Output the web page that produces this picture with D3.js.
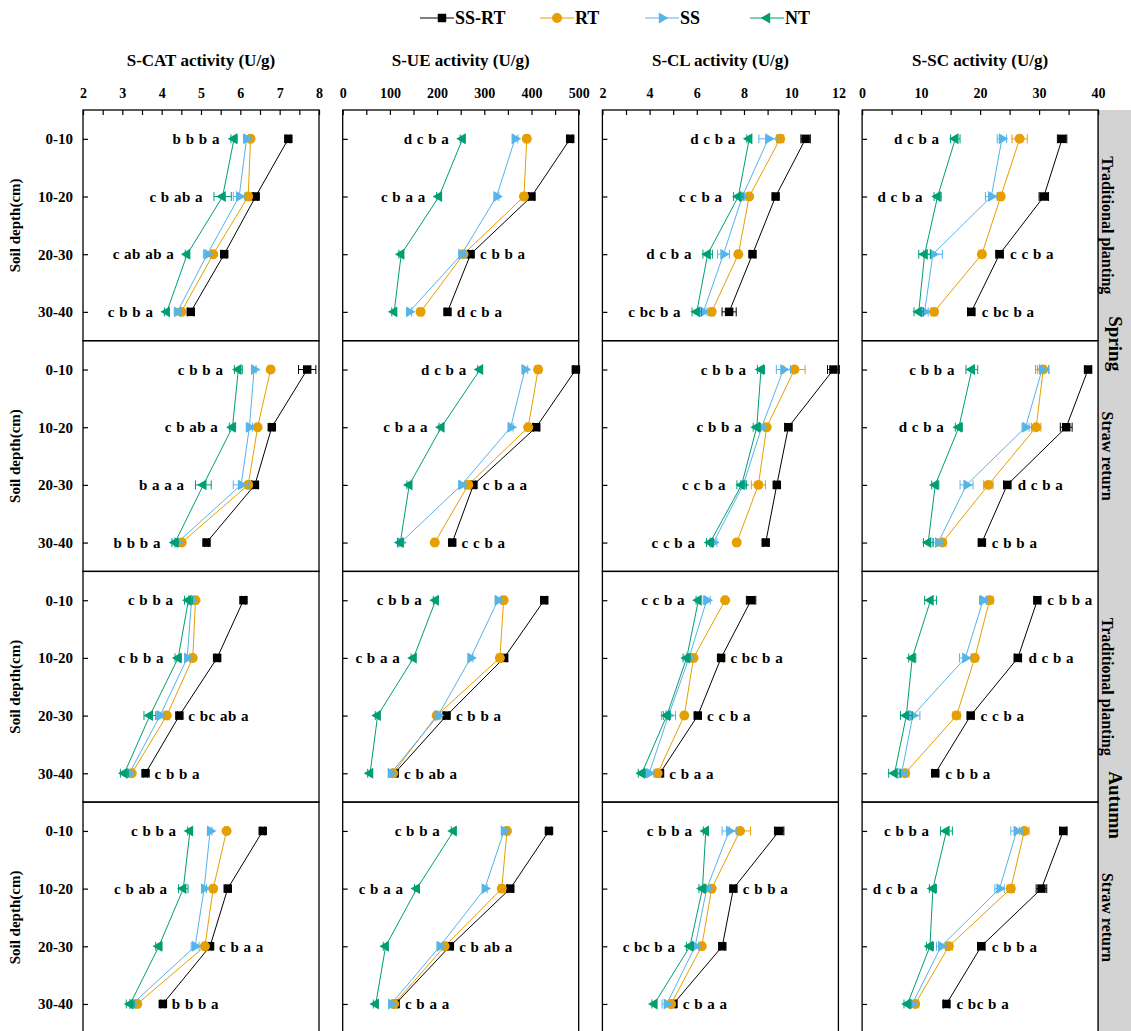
<!DOCTYPE html>
<html>
<head>
<meta charset="utf-8">
<script src="https://cdn.jsdelivr.net/npm/d3@7"></script>
<style>
  body { margin: 0; background: #fff; }
  svg text { font-family: "Liberation Serif", "Times New Roman", serif; font-weight: bold; fill: #000; }
</style>
</head>
<body>
<div id="chart"></div>
<script>
// categories
const depths = ["0-10", "10-20", "20-30", "30-40"];
const treatments = ["SS-RT", "RT", "SS", "NT"];
const colors = ["#000000", "#E69F00", "#56B4E9", "#009E73"];
const enzymeTitles = ["S-CAT activity (U/g)", "S-UE activity (U/g)", "S-CL activity (U/g)", "S-SC activity (U/g)"];
const xDomains = [[2, 8], [0, 500], [2, 12], [0, 40]];
const majorSteps = [1, 100, 2, 10];
const minorSteps = [0.5, 50, 1, 5];
const seasons = ["Spring", "Autumn"];
const practices = ["Traditional planting", "Straw return"];

// values: [row][treatment][depth]; rows = Spring-TP, Spring-SR, Autumn-TP, Autumn-SR
// treatment order: SS-RT, RT, SS, NT
const catValues = [
  [[7.22, 6.39, 5.59, 4.74], [6.26, 6.20, 5.31, 4.50], [6.16, 5.97, 5.16, 4.40], [5.84, 5.55, 4.65, 4.13]],
  [[7.70, 6.80, 6.37, 5.14], [6.77, 6.44, 6.20, 4.51], [6.35, 6.23, 6.02, 4.40], [5.95, 5.80, 5.06, 4.34]],
  [[6.08, 5.41, 4.45, 3.59], [4.86, 4.79, 4.13, 3.24], [4.76, 4.65, 3.96, 3.18], [4.68, 4.42, 3.70, 3.05]],
  [[6.57, 5.68, 5.23, 4.03], [5.65, 5.31, 5.10, 3.38], [5.23, 5.08, 4.85, 3.26], [4.72, 4.55, 3.93, 3.20]]
];
const ueValues = [
  [[482, 400, 271, 222], [390, 384, 256, 165], [365, 326, 252, 141], [254, 204, 124, 109]],
  [[494, 410, 277, 232], [414, 393, 266, 195], [386, 356, 252, 123], [291, 209, 141, 122]],
  [[427, 342, 220, 110], [341, 333, 199, 107], [329, 271, 202, 102], [197, 150, 74, 58]],
  [[437, 355, 227, 112], [348, 337, 216, 109], [342, 301, 206, 103], [235, 157, 91, 70]]
];
const clValues = [
  [[10.61, 9.34, 8.36, 7.37], [9.53, 8.22, 7.76, 6.63], [9.03, 7.93, 7.13, 6.28], [8.22, 7.76, 6.46, 6.00]],
  [[11.79, 9.88, 9.39, 8.92], [10.14, 8.96, 8.61, 7.69], [9.67, 8.75, 7.97, 6.70], [8.72, 8.54, 7.90, 6.56]],
  [[8.30, 7.03, 6.04, 4.44], [7.20, 5.86, 5.47, 4.34], [6.42, 5.67, 4.80, 3.98], [6.07, 5.57, 4.73, 3.67]],
  [[9.49, 7.55, 7.08, 5.01], [7.83, 6.63, 6.21, 4.91], [7.37, 6.42, 5.93, 4.73], [6.38, 6.24, 5.71, 4.20]]
];
const scValues = [
  [[33.9, 30.8, 23.3, 18.5], [26.7, 23.5, 20.3, 12.2], [23.7, 21.9, 12.0, 10.6], [15.8, 12.8, 10.6, 9.6]],
  [[38.3, 34.6, 24.6, 20.3], [30.7, 29.5, 21.4, 13.6], [30.5, 27.7, 17.7, 12.9], [18.6, 16.4, 12.4, 11.2]],
  [[29.7, 26.4, 18.4, 12.4], [21.6, 19.1, 16.0, 7.3], [20.5, 17.5, 8.6, 6.7], [11.6, 8.5, 7.5, 5.5]],
  [[34.1, 30.4, 20.2, 14.3], [27.5, 25.2, 14.7, 9.0], [26.2, 23.3, 13.4, 8.5], [14.3, 12.0, 11.5, 7.7]]
];

// standard errors, same layout
const catErrors = [
  [[0.05, 0.05, 0.05, 0.08], [0.05, 0.05, 0.05, 0.05], [0.08, 0.15, 0.10, 0.08], [0.08, 0.22, 0.05, 0.06]],
  [[0.22, 0.05, 0.08, 0.05], [0.05, 0.05, 0.05, 0.05], [0.05, 0.08, 0.20, 0.05], [0.10, 0.08, 0.20, 0.08]],
  [[0.05, 0.05, 0.05, 0.05], [0.05, 0.05, 0.05, 0.05], [0.06, 0.06, 0.08, 0.06], [0.10, 0.08, 0.15, 0.10]],
  [[0.05, 0.05, 0.05, 0.05], [0.05, 0.05, 0.05, 0.05], [0.05, 0.06, 0.10, 0.06], [0.06, 0.12, 0.08, 0.10]]
];
const ueErrors = [
  [[5, 6, 5, 5], [5, 6, 5, 5], [6, 5, 6, 5], [5, 5, 5, 5]],
  [[5, 6, 5, 5], [6, 5, 5, 5], [6, 5, 6, 6], [5, 5, 5, 6]],
  [[5, 6, 5, 5], [5, 6, 5, 5], [6, 5, 6, 5], [5, 5, 5, 5]],
  [[5, 6, 5, 5], [5, 6, 5, 5], [6, 5, 6, 5], [5, 5, 5, 5]]
];
const clErrors = [
  [[0.20, 0.10, 0.10, 0.30], [0.15, 0.10, 0.10, 0.10], [0.40, 0.10, 0.25, 0.15], [0.10, 0.20, 0.20, 0.20]],
  [[0.25, 0.15, 0.10, 0.10], [0.45, 0.10, 0.30, 0.10], [0.30, 0.10, 0.10, 0.15], [0.15, 0.15, 0.20, 0.15]],
  [[0.20, 0.10, 0.10, 0.10], [0.10, 0.10, 0.10, 0.10], [0.15, 0.10, 0.30, 0.20], [0.10, 0.15, 0.15, 0.15]],
  [[0.20, 0.10, 0.10, 0.10], [0.45, 0.10, 0.10, 0.10], [0.30, 0.15, 0.15, 0.20], [0.10, 0.15, 0.15, 0.10]]
];
const scErrors = [
  [[0.8, 0.8, 0.6, 0.6], [1.3, 0.5, 0.5, 0.5], [0.8, 1.0, 1.6, 0.6], [0.8, 0.6, 1.0, 0.8]],
  [[0.5, 1.0, 0.6, 0.5], [1.0, 0.8, 0.8, 0.6], [1.1, 0.6, 1.1, 0.8], [1.0, 0.6, 0.6, 0.8]],
  [[0.5, 0.6, 0.5, 0.5], [0.6, 0.5, 0.6, 0.6], [0.6, 1.0, 1.2, 0.8], [1.0, 0.6, 1.0, 1.0]],
  [[0.6, 0.9, 0.6, 0.5], [0.8, 0.6, 0.6, 0.6], [1.0, 0.8, 0.8, 0.6], [1.0, 0.6, 0.6, 0.6]]
];

// significance letters: [row][depth] = [text, side] ; L = left of lowest point, R = right of highest
const catLetters = [
  [["b b b a", "L"], ["c b ab a", "L"], ["c ab ab a", "L"], ["c b b a", "L"]],
  [["c b b a", "L"], ["c b ab a", "L"], ["b a a a", "L"], ["b b b a", "L"]],
  [["c b b a", "L"], ["c b b a", "L"], ["c bc ab a", "R"], ["c b b a", "R"]],
  [["c b b a", "L"], ["c b ab a", "L"], ["c b a a", "R"], ["b b b a", "R"]]
];
const ueLetters = [
  [["d c b a", "L"], ["c b a a", "L"], ["c b b a", "R"], ["d c b a", "R"]],
  [["d c b a", "L"], ["c b a a", "L"], ["c b a a", "R"], ["c c b a", "R"]],
  [["c b b a", "L"], ["c b a a", "L"], ["c b b a", "R"], ["c b ab a", "R"]],
  [["c b b a", "L"], ["c b a a", "L"], ["c b ab a", "R"], ["c b a a", "R"]]
];
const clLetters = [
  [["d c b a", "L"], ["c c b a", "L"], ["d c b a", "L"], ["c bc b a", "L"]],
  [["c b b a", "L"], ["c b b a", "L"], ["c c b a", "L"], ["c c b a", "L"]],
  [["c c b a", "L"], ["c bc b a", "R"], ["c c b a", "R"], ["c b a a", "R"]],
  [["c b b a", "L"], ["c b b a", "R"], ["c bc b a", "L"], ["c b a a", "R"]]
];
const scLetters = [
  [["d c b a", "L"], ["d c b a", "L"], ["c c b a", "R"], ["c bc b a", "R"]],
  [["c b b a", "L"], ["d c b a", "L"], ["d c b a", "R"], ["c b b a", "R"]],
  [["c b b a", "R"], ["d c b a", "R"], ["c c b a", "R"], ["c b b a", "R"]],
  [["c b b a", "L"], ["d c b a", "L"], ["c b b a", "R"], ["c bc b a", "R"]]
];

const allValues = [catValues, ueValues, clValues, scValues];
const allErrors = [catErrors, ueErrors, clErrors, scErrors];
const allLetters = [catLetters, ueLetters, clLetters, scLetters];

// layout
const width = 1131, height = 1031;
const left0 = 83, colStep = 259.7, panelW = 236;
const top0 = 110, rowStep = 230.7, panelH = 230.7;
const stripX = 1097;

const svg = d3.select("#chart").append("svg")
  .attr("width", width)
  .attr("height", height);

// grey side strip
svg.append("rect")
  .attr("x", stripX).attr("y", top0)
  .attr("width", width - stripX).attr("height", height - top0)
  .attr("fill", "#d3d3d3");

// marker shapes
const symbolFor = (t) => {
  if (t === 0) return { path: d3.symbol(d3.symbolSquare, 72)(), rot: 0 };
  if (t === 1) return { path: d3.symbol(d3.symbolCircle, 78)(), rot: 0 };
  if (t === 2) return { path: d3.symbol(d3.symbolTriangle, 52)(), rot: 90 };
  return { path: d3.symbol(d3.symbolTriangle, 52)(), rot: -90 };
};

// legend
const legendX = [420, 540, 645, 750];
const legend = svg.append("g");
treatments.forEach((t, i) => {
  const g = legend.append("g").attr("transform", `translate(${legendX[i]},18)`);
  g.append("line").attr("x1", 0).attr("x2", 34).attr("y1", 0).attr("y2", 0)
    .attr("stroke", colors[i]).attr("stroke-width", 1.2);
  const s = symbolFor(i);
  g.append("path").attr("d", s.path)
    .attr("transform", `translate(${i === 0 ? 22 : 17},0) rotate(${s.rot})`)
    .attr("fill", colors[i]);
  g.append("text").attr("x", 35).attr("y", 0).attr("dy", "0.35em")
    .style("font-size", "18px").text(t);
});

// column titles
enzymeTitles.forEach((t, c) => {
  svg.append("text")
    .attr("x", left0 + c * colStep + panelW / 2)
    .attr("y", 66)
    .attr("text-anchor", "middle")
    .style("font-size", "17px")
    .text(t);
});

for (let r = 0; r < 4; r++) {
  const py = top0 + r * rowStep;
  const y = d3.scalePoint().domain(depths).range([py, py + panelH]).padding(0.5);

  for (let c = 0; c < 4; c++) {
    const px = left0 + c * colStep;
    const x = d3.scaleLinear().domain(xDomains[c]).range([px, px + panelW]);
    const vals = allValues[c][r];
    const errs = allErrors[c][r];
    const letters = allLetters[c][r];
    const panel = svg.append("g");

    // top axis, only on first row
    if (r === 0) {
      const [lo, hi] = xDomains[c];
      const tickVals = d3.range(lo, hi + minorSteps[c] / 2, minorSteps[c]);
      const ax = panel.append("g")
        .attr("transform", `translate(0,${py})`)
        .call(d3.axisTop(x).tickValues(tickVals).tickSize(-5).tickPadding(12)
          .tickFormat((d) => (Math.abs((d - lo) / majorSteps[c] - Math.round((d - lo) / majorSteps[c])) < 1e-6 ? d : "")));
      ax.select(".domain").remove();
      ax.selectAll("line").attr("stroke", "#000").attr("stroke-width", 1.2);
      ax.selectAll("text").style("font-size", "14px")
        .style("font-family", '"Liberation Serif", serif').style("font-weight", "bold");
    }

    // left axis
    const ay = panel.append("g")
      .attr("transform", `translate(${px},0)`)
      .call(d3.axisLeft(y).tickSize(-5).tickPadding(10).tickFormat((d) => (c === 0 ? d : "")));
    ay.select(".domain").remove();
    ay.selectAll("line").attr("stroke", "#000").attr("stroke-width", 1.2);
    ay.selectAll("text").style("font-size", "15px")
      .style("font-family", '"Liberation Serif", serif').style("font-weight", "bold");

    // lines
    const line = d3.line().x((d) => x(d.v)).y((d) => y(d.depth));
    vals.forEach((s, t) => {
      panel.append("path")
        .datum(s.map((v, i) => ({ v, depth: depths[i] })))
        .attr("d", line)
        .attr("fill", "none")
        .attr("stroke", colors[t])
        .attr("stroke-width", 1);
    });

    // error bars and markers
    vals.forEach((s, t) => {
      const sym = symbolFor(t);
      s.forEach((v, i) => {
        const cy = y(depths[i]);
        const e = errs[t][i];
        const x1 = x(v - e), x2 = x(v + e);
        const eb = panel.append("g").attr("stroke", colors[t]).attr("stroke-width", 1);
        eb.append("line").attr("x1", x1).attr("x2", x2).attr("y1", cy).attr("y2", cy);
        eb.append("line").attr("x1", x1).attr("x2", x1).attr("y1", cy - 4.5).attr("y2", cy + 4.5);
        eb.append("line").attr("x1", x2).attr("x2", x2).attr("y1", cy - 4.5).attr("y2", cy + 4.5);
        panel.append("path")
          .attr("d", sym.path)
          .attr("transform", `translate(${x(v)},${cy}) rotate(${sym.rot})`)
          .attr("fill", colors[t]);
      });
    });

    // significance letters
    letters.forEach(([txt, side], i) => {
      const col = vals.map((s) => s[i]);
      const cy = y(depths[i]);
      if (side === "L") {
        const k = col.indexOf(d3.min(col));
        panel.append("text")
          .attr("x", x(col[k] - errs[k][i]) - 11)
          .attr("y", cy).attr("dy", "0.35em")
          .attr("text-anchor", "end")
          .style("font-size", "15px")
          .style("letter-spacing", "0.5px")
          .text(txt);
      } else {
        const k = col.indexOf(d3.max(col));
        panel.append("text")
          .attr("x", x(col[k] + errs[k][i]) + 7)
          .attr("y", cy).attr("dy", "0.35em")
          .attr("text-anchor", "start")
          .style("font-size", "15px")
          .style("letter-spacing", "0.5px")
          .text(txt);
      }
    });

    // panel frame
    panel.append("rect")
      .attr("x", px).attr("y", py)
      .attr("width", panelW).attr("height", panelH)
      .attr("fill", "none").attr("stroke", "#000").attr("stroke-width", 1.3);
  }

  // y axis title
  svg.append("text")
    .attr("transform", `translate(20,${py + panelH / 2}) rotate(-90)`)
    .attr("text-anchor", "middle")
    .style("font-size", "15px")
    .text("Soil depth(cm)");

  // practice label in the strip
  svg.append("text")
    .attr("transform", `translate(1108,${py + panelH / 2}) rotate(90)`)
    .attr("text-anchor", "middle")
    .attr("dy", "0.35em")
    .style("font-size", "16px")
    .text(practices[r % 2]);
}

// season labels between the row pairs
seasons.forEach((s, k) => {
  svg.append("text")
    .attr("transform", `translate(1116,${top0 + (2 * k + 1) * rowStep + 3}) rotate(90)`)
    .attr("text-anchor", "middle")
    .attr("dy", "0.35em")
    .style("font-size", "19px")
    .text(s);
});
</script>
</body>
</html>
